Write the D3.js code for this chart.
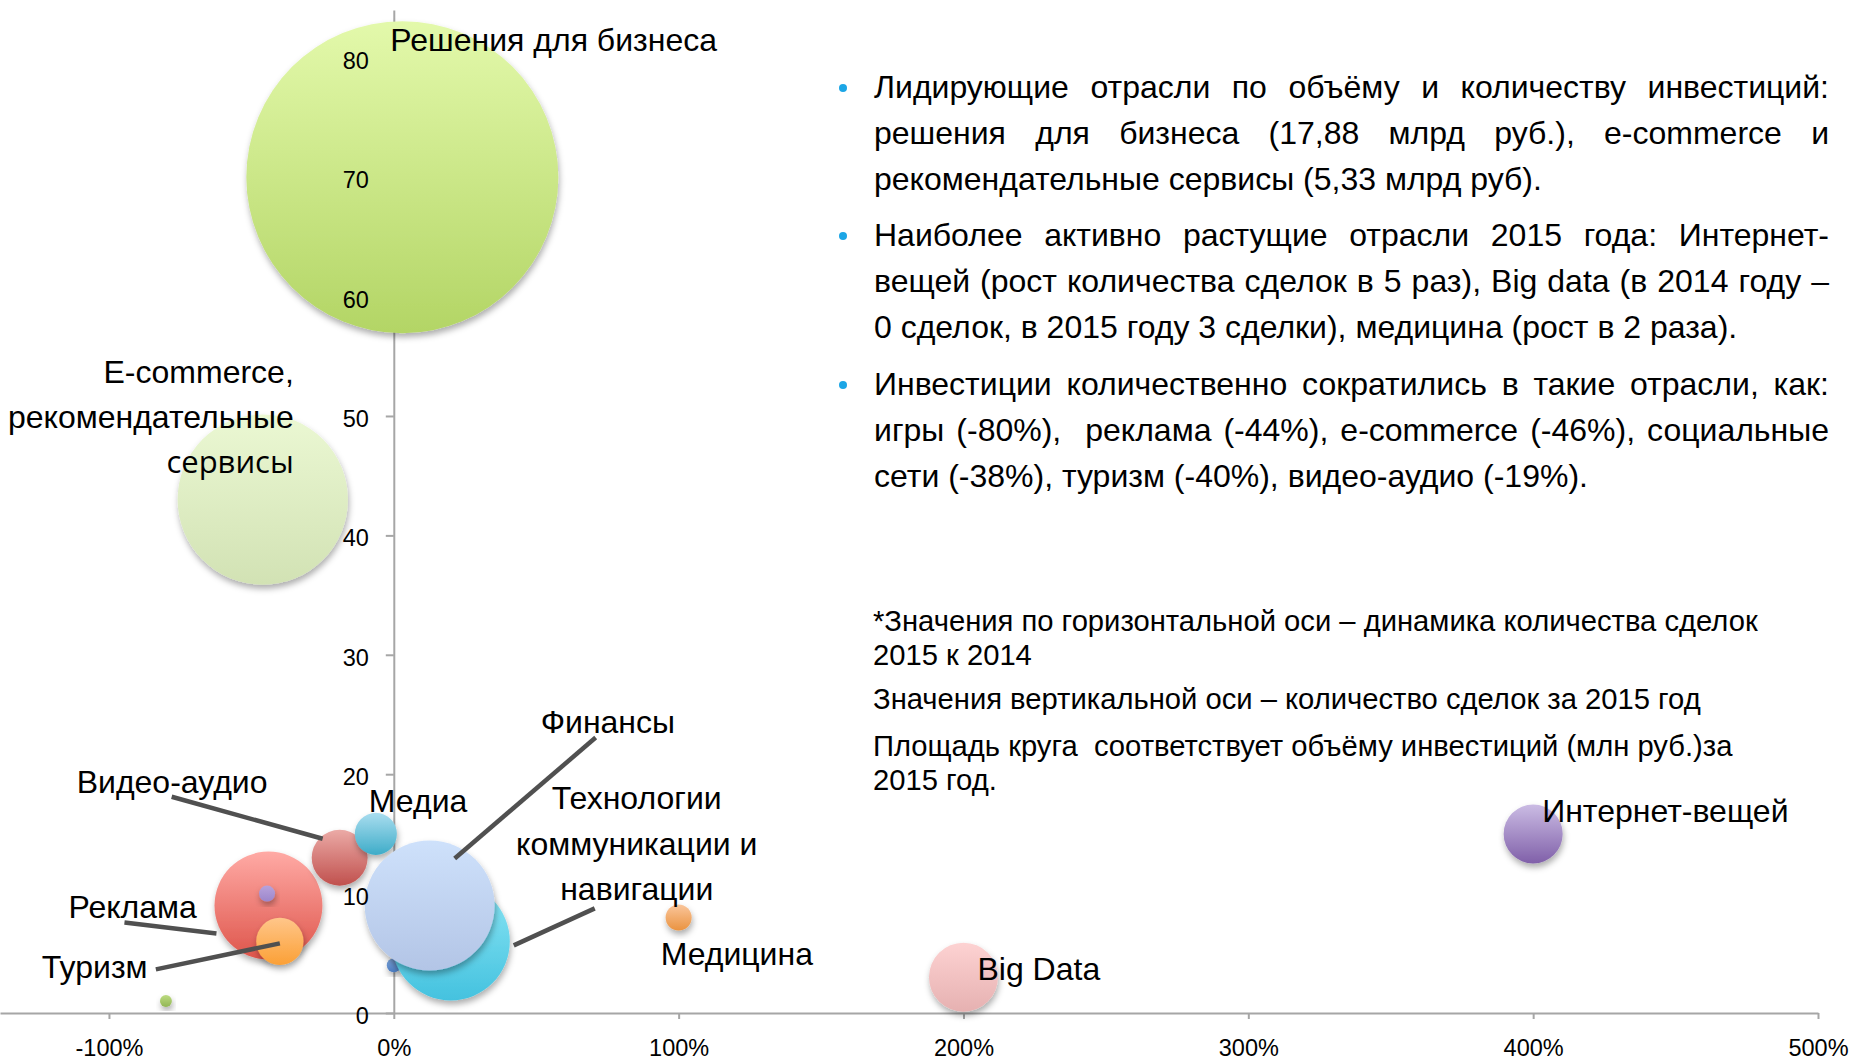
<!DOCTYPE html>
<html>
<head>
<meta charset="utf-8">
<script src="https://cdn.jsdelivr.net/npm/d3@7"></script>
<style>
  body { margin: 0; background: #fff; }
  text { font-family: "Liberation Sans", Arial, sans-serif; fill: #000; }
  .axis path, .axis line { stroke: #a6a6a6; stroke-width: 2; }
  .axis text { font-size: 23.5px; fill: #000; }
</style>
</head>
<body>
<svg id="chart" width="1855" height="1061"></svg>
<script>
// --- data ---
var names = ["Решения для бизнеса", "E-commerce", "Реклама", "Туризм", "Соц. сети", "Видео-аудио",
  "Медиа", "Игры", "Прочее", "Технологии", "Финансы", "Медицина", "Big Data", "Интернет-вещей"];
var growth = [0.03, -0.46, -0.44, -0.40, -0.445, -0.19, -0.063, -0.80, 0.0, 0.20, 0.126, 1.0, 2.0, 4.0];
var deals = [70, 43, 9, 6, 10, 13, 15, 1, 4, 6, 9, 8, 3, 15];
var invest = [17880, 5330, 2140, 410, 47, 575, 325, 26, 36, 2560, 3100, 125, 875, 640];
var topColors = ["#e3f9ab", "#ebf8d3", "#ffaaa5", "#ffc68a", "#b7a2dc", "#ebaaa6",
  "#a9ddef", "#bcdb80", "#80a8de", "#8ce6f5", "#cee1fb", "#fac69c", "#fdd2d2", "#cbbce4"];
var bottomColors = ["#b3d565", "#d2e2b4", "#de554b", "#fba036", "#9c86cb", "#c0504d",
  "#3eacc8", "#92b655", "#4a7bc0", "#44c2df", "#b3c5e6", "#ea9340", "#e6b1b1", "#8060a9"];
var xTicks = [-1, 0, 1, 2, 3, 4, 5];
var yTicks = [0, 10, 20, 30, 40, 50, 60, 70, 80];

// data labels (one entry per bubble, lines of text)
var labelLines = [["Решения для бизнеса"], ["E-commerce,", "рекомендательные", "сервисы"], ["Реклама"], ["Туризм"], [],
  ["Видео-аудио"], ["Медиа"], [], [], ["Технологии", "коммуникации и", "навигации"], ["Финансы"],
  ["Медицина"], ["Big Data"], ["Интернет-вещей"]];

var notes = [
  ["Лидирующие отрасли по объёму и количеству инвестиций:",
   "решения для бизнеса (17,88 млрд руб.), e-commerce и",
   "рекомендательные сервисы (5,33 млрд руб)."],
  ["Наиболее активно растущие отрасли 2015 года: Интернет-",
   "вещей (рост количества сделок в 5 раз), Big data (в 2014 году –",
   "0 сделок, в 2015 году 3 сделки), медицина (рост в 2 раза)."],
  ["Инвестиции количественно сократились в такие отрасли, как:",
   "игры (-80%),  реклама (-44%), e-commerce (-46%), социальные",
   "сети (-38%), туризм (-40%), видео-аудио (-19%)."]
];
var footnotes = [
  ["*Значения по горизонтальной оси – динамика количества сделок", "2015 к 2014"],
  ["Значения вертикальной оси – количество сделок за 2015 год"],
  ["Площадь круга  соответствует объёму инвестиций (млн руб.)за", "2015 год."]
];

// --- layout (px offsets from bubble centre) ---
var labelLayout = [
  {dx: -12, dy: -126, anchor: "start"},
  {dx: 31, dy: -117, anchor: "end", step: 45},
  {dx: -200, dy: 12, anchor: "start"},
  {dx: -238, dy: 37, anchor: "start"},
  null,
  {dx: -263, dy: -65, anchor: "start"},
  {dx: -7, dy: -22, anchor: "start"},
  null, null,
  {dx: 186, dy: -132, anchor: "middle", step: 45.5},
  {dx: 111, dy: -173, anchor: "start"},
  {dx: -18, dy: 48, anchor: "start"},
  {dx: 14, dy: 3, anchor: "start"},
  {dx: 9, dy: -12, anchor: "start"}
];
var leaders = [null, null, [-144, 17, -52, 28], [-124, 28, 0, 2], null, [-168, -61, -17, -19], null, null, null,
  [144, -33, 63, 4], [166, -168, 25, -47], null, null, null];

var width = 1855, height = 1061;
var svg = d3.select("#chart");

var x = d3.scaleLinear().domain([-1.3825, 5]).range([0, 1818]);
var y = d3.scaleLinear().domain([0, 84]).range([1013, 10]);
var r = d3.scaleSqrt().domain([0, 17880]).range([0, 156]);

var defs = svg.append("defs");
var shadow = defs.append("filter").attr("id", "shadow")
  .attr("x", "-30%").attr("y", "-30%").attr("width", "160%").attr("height", "160%");
shadow.append("feDropShadow").attr("dx", 1).attr("dy", 4).attr("stdDeviation", 3)
  .attr("flood-color", "#000").attr("flood-opacity", 0.32);

names.forEach(function(n, i) {
  var g = defs.append("linearGradient").attr("id", "grad" + i)
    .attr("x1", 0).attr("y1", 0).attr("x2", 0).attr("y2", 1);
  g.append("stop").attr("offset", "0%").attr("stop-color", topColors[i]);
  g.append("stop").attr("offset", "100%").attr("stop-color", bottomColors[i]);
});

// axes (lines under the bubbles, y labels drawn on top later)
var xAxis = d3.axisBottom(x).tickValues(xTicks).tickSize(6).tickSizeOuter(0).tickPadding(20)
  .tickFormat(function(d) { return Math.round(d * 100) + "%"; });
svg.append("g").attr("class", "axis").attr("transform", "translate(0," + y(0) + ")").call(xAxis);

var yAxis = d3.axisLeft(y).tickValues(yTicks).tickSize(8).tickSizeOuter(0).tickPadding(17);
var yg = svg.append("g").attr("class", "axis").attr("transform", "translate(" + x(0) + ",0)").call(yAxis);
yg.selectAll("text").remove();

// bubbles
var idx = d3.range(names.length);
svg.append("g").selectAll("circle")
  .data(idx)
  .enter()
  .append("circle")
  .attr("cx", function(i) { return x(growth[i]); })
  .attr("cy", function(i) { return y(deals[i]); })
  .attr("r", function(i) { return r(invest[i]); })
  .attr("fill", function(i) { return "url(#grad" + i + ")"; })
  .attr("filter", "url(#shadow)");

// y tick labels above bubbles
var ygTop = svg.append("g").attr("class", "axis").attr("transform", "translate(" + x(0) + ",0)").call(yAxis);
ygTop.select(".domain").remove();
ygTop.selectAll("line").remove();
ygTop.selectAll("text").attr("dy", "0.45em");

// leader lines
svg.append("g").selectAll("line")
  .data(idx.filter(function(i) { return leaders[i]; }))
  .enter()
  .append("line")
  .attr("x1", function(i) { return x(growth[i]) + leaders[i][0]; })
  .attr("y1", function(i) { return y(deals[i]) + leaders[i][1]; })
  .attr("x2", function(i) { return x(growth[i]) + leaders[i][2]; })
  .attr("y2", function(i) { return y(deals[i]) + leaders[i][3]; })
  .attr("stroke", "#505050")
  .attr("stroke-width", 4.5);

// bubble labels
idx.forEach(function(i) {
  var lay = labelLayout[i];
  if (!lay) return;
  labelLines[i].forEach(function(line, k) {
    var t = svg.append("text")
      .attr("x", x(growth[i]) + lay.dx)
      .attr("y", y(deals[i]) + lay.dy + k * (lay.step || 0))
      .attr("text-anchor", lay.anchor)
      .style("font-size", "32px")
      .text(line);
    if (line === "сервисы") t.style("font-family", "'Open Sans', sans-serif").style("font-size", "31px");
  });
});

// right-hand notes, justified
var textLeft = 874, textRight = 1829;
var noteTop = [98, 246, 395], lineGap = 46;
notes.forEach(function(para, p) {
  svg.append("circle").attr("cx", 843).attr("cy", noteTop[p] - 10).attr("r", 4).attr("fill", "#1ca6e6");
  para.forEach(function(line, k) {
    var t = svg.append("text")
      .attr("x", textLeft)
      .attr("y", noteTop[p] + k * lineGap)
      .style("font-size", "32px")
      .style("white-space", "pre")
      .text(line);
    if (k < para.length - 1) {
      var natural = t.node().getComputedTextLength();
      var spaces = line.split(" ").length - 1;
      t.attr("word-spacing", (textRight - textLeft - natural) / spaces);
    }
  });
});

var footTop = [631, 709, 756], footGap = 34;
footnotes.forEach(function(para, p) {
  para.forEach(function(line, k) {
    svg.append("text")
      .attr("x", textLeft - 1)
      .attr("y", footTop[p] + k * footGap)
      .style("font-size", "29.2px")
      .style("white-space", "pre")
      .text(line);
  });
});
</script>
</body>
</html>
